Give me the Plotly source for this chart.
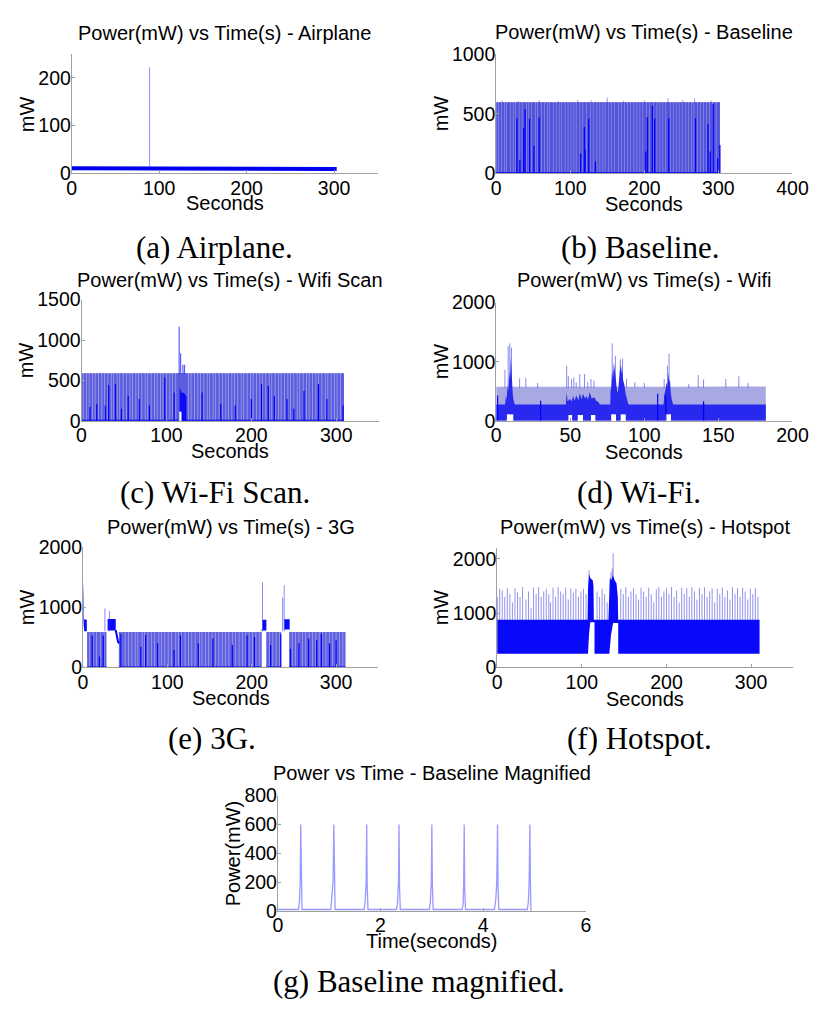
import plotly.graph_objects as go

# ---------------- data ----------------
# (a) Airplane
air_t = [0, 50, 100, 150, 200, 250, 303]
air_mw = [11, 11, 10.5, 10, 10, 9.5, 9]
air_spike_t = [89]
air_spike_mw = [222]

# (b) Baseline
base_start, base_end, base_top = 0, 302, 595
base_gap_t = [3, 7, 11, 14, 19, 23, 26, 31, 35, 41, 44, 48, 53, 56, 61, 65, 69, 72, 77, 81, 85, 88, 93,
              97, 101, 105, 108, 113, 117, 122, 127, 131, 136, 140, 144, 147, 152, 156, 160, 165, 169,
              173, 177, 181, 186, 190, 194, 198, 203, 207, 212, 217, 221, 225, 229, 235, 239, 243, 247,
              251, 256, 260, 264, 267, 272, 276, 280, 284, 288, 292, 297]
base_top_t = [8, 30, 58, 84, 110, 128, 150, 172, 200, 232, 252, 268, 290]
base_top_mw = [610, 606, 612, 604, 615, 612, 635, 608, 610, 630, 615, 628, 610]
base_dark_t = [28, 32, 37, 39, 45, 51, 58, 114, 119, 120, 125, 134, 202, 204, 211, 214, 233, 269, 286, 289, 293, 299, 302]
base_dark_mw = [463, 115, 380, 540, 458, 230, 466, 164, 389, 197, 457, 100, 183, 470, 567, 457, 463, 463, 413, 183, 580, 128, 238]

# (c) Wi-Fi Scan
scan_start, scan_end, scan_top = 0, 309, 590
scan_gap_t = [2, 6, 9, 13, 16, 20, 24, 27, 31, 35, 38, 42, 45, 49, 53, 57, 60, 64, 67, 71, 75, 78, 82, 86,
              89, 93, 96, 100, 104, 107, 111, 126, 129, 133, 137, 140, 144, 148, 151, 155, 158, 162, 166,
              170, 173, 177, 180, 184, 188, 191, 195, 199, 202, 206, 210, 213, 217, 221, 224, 228, 232,
              235, 239, 243, 246, 250, 254, 257, 261, 265, 268, 272, 276, 279, 283, 287, 290, 294, 298,
              301, 305]
scan_hole = [115, 118, 117]          # start, end, top of the empty patch under the burst
scan_burst_t = [115.5, 116.5, 118, 120, 122, 123.5]
scan_burst_mw = [420, 370, 340, 350, 330, 300]
scan_spike_t = [115, 116.7, 119.4, 121.3]
scan_spike_mw = [1165, 835, 693, 693]
scan_dark_t = [10, 18, 28, 32, 40, 47, 55, 68, 80, 98, 109, 142, 164, 181, 200, 212, 220, 227, 242, 250, 262, 279, 289, 308]
scan_dark_mw = [170, 210, 190, 443, 452, 150, 310, 270, 190, 532, 350, 350, 210, 190, 270, 452, 431, 310, 270, 150, 370, 452, 270, 190]

# (d) Wi-Fi
wifi_light_t = [0, 40, 80, 120, 160, 182]
wifi_light_mw = [575, 580, 580, 578, 580, 580]
wifi_dark_t = [0, 6.0, 6.6, 7.0, 7.7, 8.2, 8.8, 9.3, 9.9, 10.3, 10.7, 11.2, 11.6, 12.5,
               47, 47.6, 48.2, 49.8, 51, 52, 53, 54, 55.5, 56.5, 57.5, 58.6, 60, 61, 62, 63, 64.5,
               66.2, 67.5, 69, 70,
               77, 77.2, 77.8, 78.3, 78.8, 79.4, 80.2, 81, 81.6, 82.2, 83, 83.8, 84.4, 84.9, 85.6,
               86.6, 87.4, 88.2, 89.3,
               113, 113.4, 114.2, 115.1, 115.6, 116.2, 116.8, 117.3, 117.8, 118.4, 119.5, 182]
wifi_dark_mw = [275, 275, 430, 350, 600, 500, 820, 700, 1070, 800, 700, 450, 370, 275,
                275, 480, 330, 370, 330, 420, 340, 430, 350, 470, 360, 457, 380, 420, 360, 485, 380,
                400, 340, 320, 275,
                275, 485, 600, 875, 700, 985, 750, 650, 500, 485, 700, 960, 800, 930, 700,
                600, 450, 370, 275,
                275, 430, 520, 650, 560, 820, 650, 707, 500, 370, 275, 275]
wifi_hole_start = [7.2, 48.7, 55, 64, 77.6, 84, 114]
wifi_hole_end = [11.6, 51.3, 58.6, 67, 80.9, 87.5, 118]
wifi_hole_top = [110, 100, 100, 100, 110, 110, 110]
wifi_spike_t = [5.9, 8.1, 9.2, 10.3, 15.8, 20, 28, 47.6, 48.7, 50.9, 52.4, 54, 56.4, 59.6, 61.8, 64, 66,
                78.3, 80.5, 83.8, 85.3, 88, 93.6, 100, 113.4, 115.6, 116.7, 130, 136.4, 140, 155, 163.8, 170]
wifi_spike_mw = [863, 1265, 1309, 1237, 719, 720, 640, 930, 763, 707, 735, 652, 791, 791, 652, 707, 680,
                 1309, 1097, 1041, 1053, 707, 652, 640, 707, 930, 1136, 620, 774, 700, 707, 752, 640]
wifi_dark_sp_t = [1, 109, 114.5, 30, 140]
wifi_dark_sp_mw = [430, 457, 430, 340, 330]

# (e) 3G
g3_seg_start = [5, 42.6, 217.4, 244.5]
g3_seg_end = [27.7, 211.7, 234.7, 311]
g3_band_mw = 590
g3_gap_t = [8, 12, 16, 21, 25, 46, 50, 54, 58, 62, 65, 70, 73, 77, 81, 85, 90, 93, 97, 101, 105, 110, 113,
            117, 121, 125, 129, 133, 138, 141, 145, 149, 153, 157, 161, 165, 169, 173, 177, 181, 185, 189,
            193, 197, 201, 205, 209, 221, 225, 229, 233, 248, 252, 256, 260, 264, 268, 272, 276, 280, 284,
            288, 292, 296, 300, 304, 308]
g3_start_t = [0, 0.6, 1.3, 4.6, 4.6, 1.5, 0.8, 0]
g3_start_mw = [1450, 1000, 800, 790, 600, 600, 700, 1200]
g3_blk_start = [29.2, 212.8, 238.6]
g3_blk_end = [38.8, 217.4, 245]
g3_blk_lo = [615, 615, 630]
g3_blk_hi = [805, 790, 800]
g3_curve_t = [38.8, 40, 41.5, 43]
g3_curve_mw = [620, 520, 430, 400]
g3_spike_t = [26, 31.5, 212, 212.8, 236.6, 238.5]
g3_spike_mw = [978, 940, 640, 1413, 1157, 1364]
g3_dark_t = [11, 19.6, 24, 45, 68.6, 74.3, 88.5, 108, 115.6, 136.7, 154, 177, 194.5, 203.3, 222.4, 234.5,
             246, 256, 267.5, 277, 282.7, 292.3, 300]
g3_dark_mw = [530, 180, 530, 560, 342, 540, 400, 290, 530, 400, 480, 370, 530, 505, 370, 560,
              310, 400, 480, 450, 560, 400, 450]

# (f) Hotspot
hot_top_t = [0, 106.8, 107.3, 108, 108.7, 110, 111.5, 113, 113.8, 114.2, 131.5, 132, 133, 134, 135,
             136.5, 137.5, 139, 141, 142.5, 143, 310]
hot_top_mw = [880, 880, 1450, 1650, 1720, 1650, 1620, 1600, 1500, 880, 880, 1400, 1620, 1650, 1600,
              1700, 1650, 1600, 1550, 1300, 880, 880]
hot_bot_t = [310, 143, 143, 137, 134.5, 132.5, 115, 115, 110, 108.5, 107.3, 0]
hot_bot_mw = [250, 250, 820, 820, 600, 250, 250, 830, 830, 600, 250, 250]
hot_spike_t = [0.5, 3, 6, 9, 12, 15, 18, 21, 24, 27, 30, 34, 37, 40, 43, 46, 49, 52, 55, 58, 61, 63, 66,
               69, 72, 75, 78, 81, 84, 87, 90, 93, 96, 99, 102, 105, 108.5, 118, 121, 124, 127, 130,
               134.5, 136, 137, 146, 149, 152, 155, 158, 161, 164, 167, 170, 173, 176, 179, 182, 185,
               188, 191, 194, 197, 200, 203, 206, 209, 212, 215, 218, 221, 224, 227, 230, 233, 236,
               239, 242, 245, 248, 251, 254, 257, 260, 263, 266, 269, 272, 275, 278, 281, 284, 287,
               290, 293, 296, 299, 302, 305, 308]
hot_spike_mw = [1300, 1450, 1420, 1300, 1460, 1350, 1200, 1460, 1380, 1300, 1480, 1250, 1400, 1100,
                1470, 1350, 1480, 1300, 1400, 1450, 1350, 1200, 1470, 1300, 1480, 1400, 1350, 1470,
                1250, 1460, 1380, 1450, 1300, 1400, 1450, 1350, 1790, 1400, 1300, 1450, 1350, 1200,
                1750, 1820, 2100, 1450, 1350, 1480, 1300, 1400, 1460, 1350, 1250, 1470, 1400, 1300,
                1470, 1350, 1200, 1440, 1480, 1300, 1400, 1460, 1350, 1480, 1300, 1420, 1200, 1470,
                1350, 1460, 1300, 1480, 1400, 1250, 1470, 1350, 1480, 1300, 1400, 1460, 1200, 1450,
                1350, 1470, 1300, 1420, 1250, 1480, 1350, 1460, 1300, 1470, 1400, 1250, 1450, 1350,
                1460, 1300]

# (g) Baseline magnified
mag_t = [0.00, 0.40, 0.42, 0.435, 0.445, 0.455, 0.47,
         1.03, 1.05, 1.075, 1.09, 1.10, 1.115,
         1.68, 1.70, 1.72, 1.73, 1.74, 1.755,
         2.31, 2.33, 2.35, 2.36, 2.37, 2.385,
         2.95, 2.97, 2.99, 3.00, 3.01, 3.025,
         3.59, 3.61, 3.62, 3.63, 3.64, 3.655,
         4.22, 4.245, 4.265, 4.28, 4.29, 4.305,
         4.86, 4.88, 4.895, 4.91, 4.92, 4.93]
mag_mw = [10, 10, 60, 200, 600, 200, 10,
          10, 90, 200, 600, 150, 10,
          10, 60, 200, 600, 180, 10,
          10, 50, 200, 600, 170, 10,
          10, 60, 200, 600, 180, 10,
          10, 50, 200, 600, 150, 10,
          10, 80, 200, 600, 150, 10,
          10, 60, 200, 600, 200, 0]

# ---------------- helpers ----------------
W, H = 826, 1010
SANS = "Liberation Sans"
SERIF = "Liberation Serif"
BLUE = "rgb(0,0,255)"
GAP_W = 0.9   # width (s) of a missing-sample streak


def spike_xy(ts, peaks, base):
    xs, ys = [], []
    for t, p in zip(ts, peaks):
        xs += [t, t, None]
        ys += [base, p, None]
    return xs, ys


def band_poly(top_t, top_v, base=0, hs=(), he=(), ht=()):
    xs = list(top_t) + [top_t[-1]]
    ys = list(top_v) + [base]
    for s, e, h in sorted(zip(hs, he, ht), reverse=True):
        xs += [e, e, s, s]
        ys += [base, h, h, base]
    xs.append(top_t[0])
    ys.append(base)
    return xs, ys


def gapped_band(s, e, top, gaps=(), hole=None):
    """band [s, e] x [0, top] split by thin streaks at the gap times"""
    xs, ys = [], []
    cuts = [g for g in sorted(gaps) if s < g < e]
    edges = [s] + [c for g in cuts for c in (g - GAP_W / 2, g + GAP_W / 2)] + [e]
    for a, b in zip(edges[0::2], edges[1::2]):
        if hole and a < hole[1] and b > hole[0]:
            xs += [a, b, b, hole[1], hole[1], hole[0], hole[0], a, a, None]
            ys += [top, top, 0, 0, hole[2], hole[2], 0, 0, top, None]
        else:
            xs += [a, b, b, a, a, None]
            ys += [top, top, 0, 0, top, None]
    return xs, ys


fig = go.Figure()


def add(n, **kw):
    sfx = "" if n == 1 else str(n)
    fig.add_trace(go.Scatter(xaxis="x" + sfx, yaxis="y" + sfx, hoverinfo="skip", **kw))


def add_fill(n, xs, ys, color):
    add(n, x=xs, y=ys, mode="lines", fill="toself", fillcolor=color, line=dict(width=0, color=color))


def add_spikes(n, ts, ps, base, color, width=1):
    xs, ys = spike_xy(ts, ps, base)
    add(n, x=xs, y=ys, mode="lines", line=dict(color=color, width=width))


# (a)
add(1, x=air_t, y=air_mw, mode="lines", line=dict(color="rgb(0,0,240)", width=4))
add_spikes(1, air_spike_t, air_spike_mw, 12, "rgba(40,40,255,0.5)", 1)

# (b)
ux, uy = gapped_band(base_start, base_end, base_top)
add_fill(2, ux, uy, "rgb(150,150,232)")
bx, by = gapped_band(base_start, base_end, base_top, base_gap_t)
add_fill(2, bx, by, "rgb(82,82,218)")
add_spikes(2, base_top_t, base_top_mw, 590, "rgba(60,60,220,0.5)", 1)
add_spikes(2, base_dark_t, base_dark_mw, 0, BLUE, 1.3)
add(2, x=[base_start, base_end], y=[4, 4], mode="lines", line=dict(color=BLUE, width=1.5))

# (c)
ux, uy = gapped_band(scan_start, scan_end, scan_top, (), scan_hole)
add_fill(3, ux, uy, "rgb(165,165,236)")
cx, cy = gapped_band(scan_start, scan_end, scan_top, scan_gap_t, scan_hole)
add_fill(3, cx, cy, "rgb(92,92,222)")
bx2, by2 = band_poly(scan_burst_t, scan_burst_mw, 0, [scan_burst_t[0]], [scan_hole[1]], [scan_hole[2]])
add_fill(3, bx2, by2, "rgb(10,10,245)")
add_spikes(3, scan_spike_t, scan_spike_mw, 580, "rgba(40,40,255,0.75)", 1.2)
add_spikes(3, scan_dark_t, scan_dark_mw, 0, BLUE, 1.2)
add(3, x=[scan_start, scan_hole[0], None, scan_hole[1], scan_end], y=[4, 4, None, 4, 4], mode="lines",
    line=dict(color=BLUE, width=1.5))

# (d)
lx, ly = band_poly(wifi_light_t, wifi_light_mw, 0, wifi_hole_start, wifi_hole_end, wifi_hole_top)
add_fill(4, lx, ly, "rgb(168,168,226)")
dx, dy = band_poly(wifi_dark_t, wifi_dark_mw, 0, wifi_hole_start, wifi_hole_end, wifi_hole_top)
add_fill(4, dx, dy, "rgb(40,40,238)")
add_spikes(4, wifi_spike_t, wifi_spike_mw, 560, "rgba(40,40,230,0.55)", 1)
add_spikes(4, wifi_dark_sp_t, wifi_dark_sp_mw, 0, BLUE, 1.2)

# (e)
ux, uy, ex, ey = [], [], [], []
for s, e in zip(g3_seg_start, g3_seg_end):
    px, py = gapped_band(s, e, g3_band_mw)
    ux += px
    uy += py
    px, py = gapped_band(s, e, g3_band_mw, g3_gap_t)
    ex += px
    ey += py
add_fill(5, ux, uy, "rgb(165,165,236)")
add_fill(5, ex, ey, "rgb(96,96,224)")
add_fill(5, g3_start_t, g3_start_mw, "rgb(15,15,245)")
kx, ky = [], []
for s, e, lo, hi in zip(g3_blk_start, g3_blk_end, g3_blk_lo, g3_blk_hi):
    kx += [s, e, e, s, None]
    ky += [hi, hi, lo, lo, None]
add_fill(5, kx, ky, "rgb(10,10,245)")
add(5, x=g3_curve_t, y=g3_curve_mw, mode="lines", line=dict(color=BLUE, width=2))
add_spikes(5, g3_spike_t, g3_spike_mw, 600, "rgba(40,40,255,0.55)", 1)
add_spikes(5, g3_dark_t, g3_dark_mw, 0, BLUE, 1.2)
sx, sy = [], []
for s, e in zip(g3_seg_start, g3_seg_end):
    sx += [s, e, None]
    sy += [4, 4, None]
add(5, x=sx, y=sy, mode="lines", line=dict(color=BLUE, width=1.5))

# (f)
add_spikes(6, hot_spike_t, hot_spike_mw, 870, "rgba(40,40,220,0.5)", 1)
add_fill(6, hot_top_t + hot_bot_t, hot_top_mw + hot_bot_mw, "rgb(8,8,250)")

# (g)
add(7, x=mag_t, y=mag_mw, mode="lines", line=dict(color="rgba(70,70,255,0.55)", width=1.3))

# ---------------- layout ----------------
panels = [
    dict(box=(68.5, 382.5, 44, 166), xr=[0, 350], yr=[0, 250], xt=[0, 100, 200, 300], yt=[0, 100, 200],
         title="Power(mW) vs Time(s) - Airplane", ty=22, xl="Seconds", xly=196, yl="mW", ylx=22,
         cap="(a) Airplane.", capx=215, capy=242),
    dict(box=(504, 808, 44, 166), xr=[0, 400], yr=[0, 1000], xt=[0, 100, 200, 300, 400], yt=[0, 500, 1000],
         title="Power(mW) vs Time(s) - Baseline", ty=21, xl="Seconds", xly=197, yl="mW", ylx=447,
         cap="(b) Baseline.", capx=652, capy=242),
    dict(box=(78.5, 383.5, 295, 419), xr=[0, 350], yr=[0, 1500], xt=[0, 100, 200, 300], yt=[0, 500, 1000, 1500],
         title="Power(mW) vs Time(s) - Wifi Scan", ty=275, xl="Seconds", xly=450, yl="mW", ylx=21.5,
         cap="(c) Wi-Fi Scan.", capx=215, capy=492),
    dict(box=(504, 808, 298, 419), xr=[0, 200], yr=[0, 2000], xt=[0, 50, 100, 150, 200], yt=[0, 1000, 2000],
         title="Power(mW) vs Time(s) - Wifi", ty=275, xl="Seconds", xly=451, yl="mW", ylx=447,
         cap="(d) Wi-Fi.", capx=651, capy=492),
    dict(box=(80, 383, 548, 671), xr=[0, 350], yr=[0, 2000], xt=[0, 100, 200, 300], yt=[0, 1000, 2000],
         title="Power(mW) vs Time(s) - 3G", ty=527, xl="Seconds", xly=702, yl="mW", ylx=22.5,
         cap="(e) 3G.", capx=212, capy=744),
    dict(box=(505, 809, 549, 671), xr=[0, 350], yr=[0, 2200], xt=[0, 100, 200, 300], yt=[0, 1000, 2000],
         title="Power(mW) vs Time(s) - Hotspot", ty=527, xl="Seconds", xly=703, yl="mW", ylx=447,
         cap="(f) Hotspot.", capx=651, capy=744),
    dict(box=(280, 596, 802, 920), xr=[0, 6], yr=[0, 800], xt=[0, 2, 4, 6], yt=[0, 200, 400, 600, 800],
         title="Power vs Time - Baseline Magnified", ty=779, xl="Time(seconds)", xly=951, yl="Power(mW)", ylx=234,
         cap="(g) Baseline magnified.", capx=425, capy=992),
]

layout = dict(width=W, height=H, margin=dict(l=0, r=0, t=0, b=0, pad=0), showlegend=False,
              paper_bgcolor="white", plot_bgcolor="white")
annotations = []
AX = "#a0a0a0"
for i, p in enumerate(panels):
    n = i + 1
    sfx = "" if n == 1 else str(n)
    l, r, t, b = p["box"]
    common = dict(showline=True, linecolor=AX, linewidth=1, ticks="inside", ticklen=3, tickcolor=AX,
                  showgrid=False, zeroline=False, fixedrange=True,
                  tickfont=dict(family=SANS, size=19.5, color="black"))
    layout["xaxis" + sfx] = dict(domain=[l / W, r / W], range=p["xr"], tickvals=p["xt"],
                                 anchor="y" + sfx, ticklabelstandoff=-3, **common)
    layout["yaxis" + sfx] = dict(domain=[1 - b / H, 1 - t / H], range=p["yr"], tickvals=p["yt"],
                                 anchor="x" + sfx, ticklabelstandoff=-4, **common)
    cxp = (l + r) / 2
    annotations.append(dict(text=p["title"], x=cxp / W, y=1 - p["ty"] / H, xref="paper", yref="paper",
                            showarrow=False, xanchor="center", yanchor="middle",
                            font=dict(family=SANS, size=20, color="black")))
    annotations.append(dict(text=p["xl"], x=cxp / W, y=1 - p["xly"] / H, xref="paper", yref="paper",
                            showarrow=False, xanchor="center", yanchor="middle",
                            font=dict(family=SANS, size=20, color="black")))
    annotations.append(dict(text=p["yl"], x=p["ylx"] / W, y=1 - ((t + b) / 2) / H, xref="paper", yref="paper",
                            showarrow=False, xanchor="center", yanchor="middle", textangle=-90,
                            font=dict(family=SANS, size=20, color="black")))
    annotations.append(dict(text=p["cap"], x=p["capx"] / W, y=1 - p["capy"] / H, xref="paper", yref="paper",
                            showarrow=False, xanchor="center", yanchor="middle",
                            font=dict(family=SERIF, size=31, color="black")))
layout["annotations"] = annotations
fig.update_layout(**layout)
fig.write_html("out.html", config={"displayModeBar": False},
               post_script="document.body.style.margin='0';document.body.style.overflow='hidden';")
